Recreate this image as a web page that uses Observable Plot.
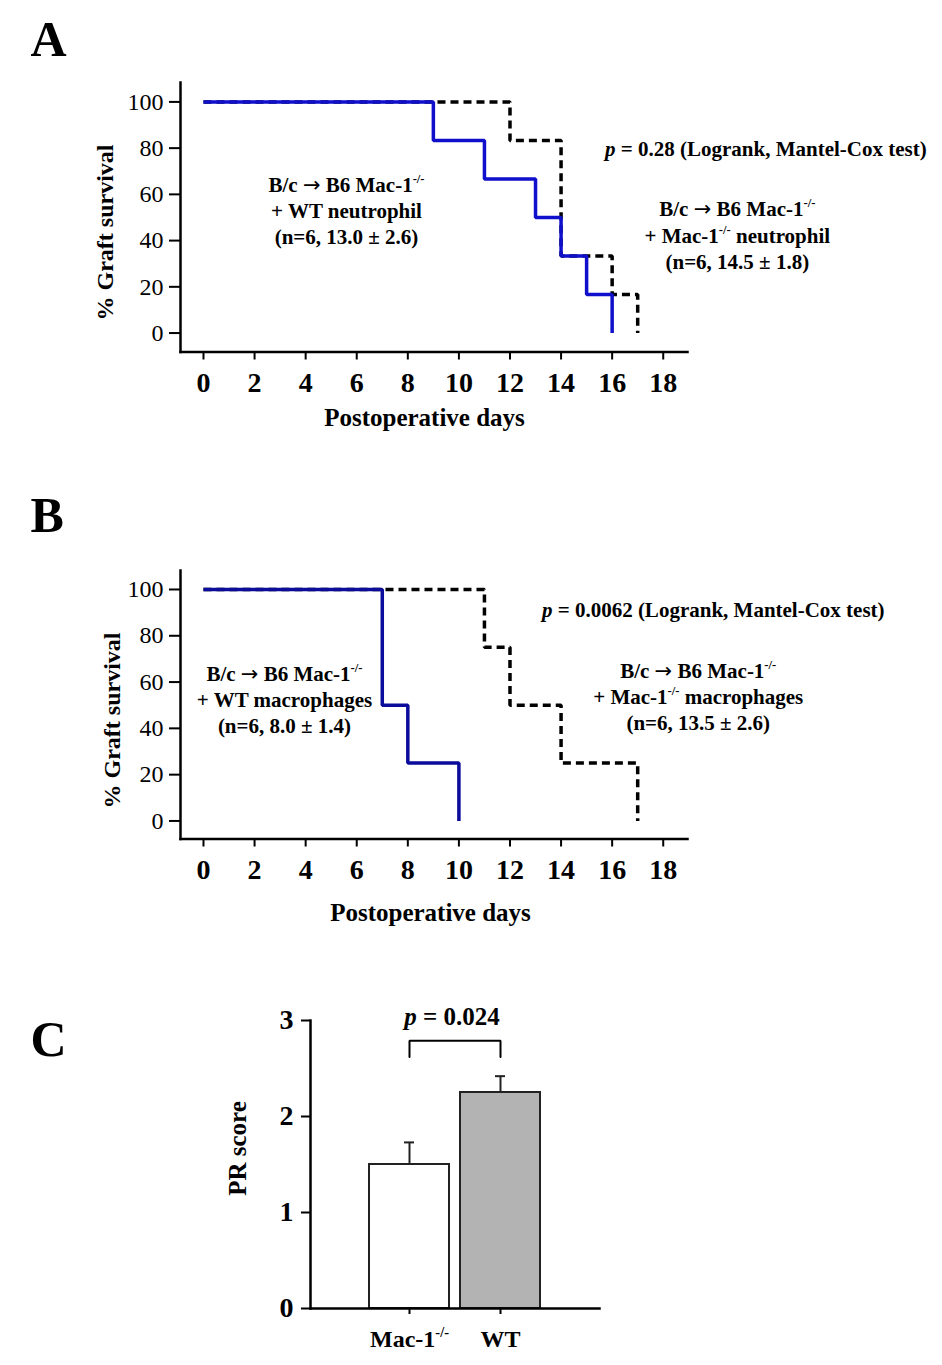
<!DOCTYPE html>
<html>
<head>
<meta charset="utf-8">
<script src="https://cdn.jsdelivr.net/npm/d3@7"></script>
<script src="https://cdn.jsdelivr.net/npm/@observablehq/plot@0.6"></script>
<style>
  body { margin: 0; background: #fff; }
  #fig { width: 942px; height: 1365px; overflow: hidden; background: #fff; }
  #fig svg { display: block; }
</style>
</head>
<body>
<div id="fig"></div>
<script>
// ---------------- Data ----------------
// Panel A: Kaplan–Meier steps (day, % graft survival)
const daysA_WT = [0, 9, 11, 13, 14, 15, 16];
const survA_WT = [100, 83.3, 66.7, 50, 33.3, 16.7, 0];
const daysA_KO = [0, 12, 14, 16, 17];
const survA_KO = [100, 83.3, 33.3, 16.7, 0];
// Panel B
const daysB_WT = [0, 7, 8, 10];
const survB_WT = [100, 50, 25, 0];
const daysB_KO = [0, 11, 12, 14, 17];
const survB_KO = [100, 75, 50, 25, 0];
// Axis ticks
const dayTicks = [0, 2, 4, 6, 8, 10, 12, 14, 16, 18];
const survTicks = [0, 20, 40, 60, 80, 100];
// Panel C: PR score
const groupsC = ["Mac-1-/-", "WT"];
const meansC = [1.5, 2.25];
const semC = [0.23, 0.17];
const scoreTicks = [0, 1, 2, 3];
// Texts
const textsA = [
  "B/c → B6 Mac-1-/-\n+ WT neutrophil\n(n=6, 13.0 ± 2.6)",
  "B/c → B6 Mac-1-/-\n+ Mac-1-/- neutrophil\n(n=6, 14.5 ± 1.8)"
];
const pTextA = "p = 0.28 (Logrank, Mantel-Cox test)";
const textsB = [
  "B/c → B6 Mac-1-/-\n+ WT macrophages\n(n=6, 8.0 ± 1.4)",
  "B/c → B6 Mac-1-/-\n+ Mac-1-/- macrophages\n(n=6, 13.5 ± 2.6)"
];
const pTextB = "p = 0.0062 (Logrank, Mantel-Cox test)";
const pTextC = "p = 0.024";
const bracketLevels = [2.62, 2.79];

// ---------------- Helpers ----------------
const FONT = "'Liberation Serif', 'Times New Roman', Times, serif";
const steps = (days, surv) => days.map((d, i) => ({day: d, surv: surv[i]}));

function decorate(svg) {
  const NS = "http://www.w3.org/2000/svg";
  const nodes = Array.from(svg.querySelectorAll("text, tspan"))
    .filter(n => n.children.length === 0 &&
      (n.textContent.includes("-/-") || n.textContent.includes("→") || /^p = /.test(n.textContent)));
  for (const n of nodes) {
    const s = n.textContent;
    const fs = parseFloat(getComputedStyle(n).fontSize) || 20;
    n.textContent = "";
    const add = (txt, attrs = {}) => {
      const t = document.createElementNS(NS, "tspan");
      t.textContent = txt;
      for (const [k, v] of Object.entries(attrs)) t.setAttribute(k, v);
      n.appendChild(t);
    };
    let rest = s;
    if (/^p = /.test(rest)) { add("p", {"font-style": "italic"}); rest = rest.slice(1); }
    for (const tok of rest.split(/(-\/-|→)/)) {
      if (!tok) continue;
      if (tok === "-/-") add(tok, {"font-size": (fs * 0.6).toFixed(1), "baseline-shift": (fs * 0.42).toFixed(1)});
      else if (tok === "→") add(tok, {"font-family": "'DejaVu Sans', sans-serif", "font-weight": "normal"});
      else add(tok);
    }
  }
}

function survivalPanel(o) {
  return Plot.plot({
    width: 942,
    height: o.height,
    marginLeft: 180,
    marginRight: 255,
    marginTop: o.marginTop,
    marginBottom: o.marginBottom,
    x: {domain: [-0.9, 18.95]},
    y: {domain: o.yDomain},
    style: {fontFamily: FONT, background: "white", color: "black", overflow: "visible"},
    marks: [
      Plot.frame({anchor: "left", stroke: "black", strokeWidth: 2.5}),
      Plot.frame({anchor: "bottom", stroke: "black", strokeWidth: 2.5}),
      Plot.axisY({ticks: survTicks, tickSize: 11, tickPadding: 6, fontSize: 24, strokeWidth: 2, label: null}),
      Plot.axisX({ticks: dayTicks, tickSize: 8, tickPadding: 12, fontSize: 28, fontWeight: "bold", strokeWidth: 2, label: null}),
      Plot.line(o.ko, {x: "day", y: "surv", curve: "step-after", stroke: "black", strokeWidth: 3.5,
        strokeDasharray: "8,5", strokeLinecap: "butt", strokeLinejoin: "miter"}),
      Plot.line(o.wt, {x: "day", y: "surv", curve: "step-after", stroke: o.blue, strokeWidth: 3.5,
        strokeLinecap: "butt", strokeLinejoin: "miter"}),
      Plot.text(o.texts, {x: o.textX, y: o.textY, fontSize: 21, fontWeight: "bold", lineHeight: 1.24,
        lineAnchor: "bottom", textAnchor: "middle"}),
      Plot.text([o.pText], {x: [o.pX], y: [o.pY], fontSize: 21, fontWeight: "bold", lineAnchor: "bottom", textAnchor: "start"}),
      Plot.text(["Postoperative days"], {frameAnchor: "bottom", textAnchor: "middle", dx: o.xlDx, dy: o.xlDy, fontSize: 25, fontWeight: "bold", lineAnchor: "bottom"}),
      Plot.text(["% Graft survival"], {frameAnchor: "left", textAnchor: "middle", lineAnchor: "middle", rotate: -90, dx: o.ylDx, dy: o.ylDy, fontSize: 24, fontWeight: "bold"}),
      Plot.text([o.letter], {frameAnchor: "top-left", textAnchor: "start", lineAnchor: "bottom", dx: -150, dy: o.letterDy, fontSize: 50, fontWeight: "bold"})
    ]
  });
}

const fig = document.getElementById("fig");

const plotA = survivalPanel({
  height: 470, marginTop: 82, marginBottom: 118.5, yDomain: [-8.2, 108.4],
  ko: steps(daysA_KO, survA_KO), wt: steps(daysA_WT, survA_WT), blue: "#1010cc",
  texts: textsA, textX: [5.6, 20.9], textY: [38.7, 27.9],
  pText: pTextA, pX: 15.72, pY: 76.8,
  xlDx: -9.5, xlDy: 73.5, ylDx: -75, ylDy: 15.25, letter: "A", letterDy: -27
});
fig.appendChild(plotA);

const plotB = survivalPanel({
  height: 490, marginTop: 100, marginBottom: 121.5, yDomain: [-7.8, 108.2],
  ko: steps(daysB_KO, survB_KO), wt: steps(daysB_WT, survB_WT), blue: "#0b0b9c",
  texts: textsB, textX: [3.17, 19.37], textY: [37.8, 39.1],
  pText: pTextB, pX: 13.25, pY: 87.9,
  xlDx: -3.5, xlDy: 81.5, ylDx: -68, ylDy: 15.75, letter: "B", letterDy: -39
});
fig.appendChild(plotB);

const dataC = groupsC.map((g, i) => ({group: g, mean: meansC[i], top: meansC[i] + semC[i]}));
const bracket = [
  {group: groupsC[0], v: bracketLevels[0]},
  {group: groupsC[0], v: bracketLevels[1]},
  {group: groupsC[1], v: bracketLevels[1]},
  {group: groupsC[1], v: bracketLevels[0]}
];
const barFill = ["white", "#b3b3b3"];

const plotC = Plot.plot({
  width: 942,
  height: 405,
  marginLeft: 310,
  marginRight: 343,
  marginTop: 60,
  marginBottom: 57,
  x: {domain: groupsC, paddingInner: 0.126, paddingOuter: 0.637},
  y: {domain: [0, 3]},
  color: {type: "identity"},
  style: {fontFamily: FONT, background: "white", color: "black", overflow: "visible"},
  marks: [
    Plot.barY(dataC, {x: "group", y: "mean", fill: (d, i) => barFill[i], stroke: "#222", strokeWidth: 2}),
    Plot.ruleX(dataC, {x: "group", y1: "mean", y2: "top", stroke: "#222", strokeWidth: 2}),
    Plot.tickY(dataC, {x: "group", y: "top", insetLeft: 35, insetRight: 35, stroke: "#222", strokeWidth: 2}),
    Plot.line(bracket, {x: "group", y: "v", stroke: "black", strokeWidth: 2, strokeLinejoin: "miter"}),
    Plot.frame({anchor: "left", stroke: "black", strokeWidth: 2.5}),
    Plot.frame({anchor: "bottom", stroke: "black", strokeWidth: 2.5}),
    Plot.axisY({ticks: scoreTicks, tickFormat: d => String(d), tickSize: 9, tickPadding: 8, fontSize: 28, fontWeight: "bold", strokeWidth: 2, label: null}),
    Plot.axisX({tickSize: 6, tickPadding: 15, fontSize: 24, fontWeight: "bold", strokeWidth: 2, label: null}),
    Plot.text([pTextC], {y: [2.948], dx: -3, fontSize: 25, fontWeight: "bold", lineAnchor: "bottom"}),
    Plot.text(["PR score"], {frameAnchor: "left", textAnchor: "middle", lineAnchor: "middle", rotate: -90, dx: -73, dy: -16, fontSize: 25, fontWeight: "bold"}),
    Plot.text(["C"], {frameAnchor: "top-left", textAnchor: "start", lineAnchor: "bottom", dx: -280, dy: 35, fontSize: 50, fontWeight: "bold"})
  ]
});
fig.appendChild(plotC);

[plotA, plotB, plotC].forEach(decorate);
</script>
</body>
</html>
